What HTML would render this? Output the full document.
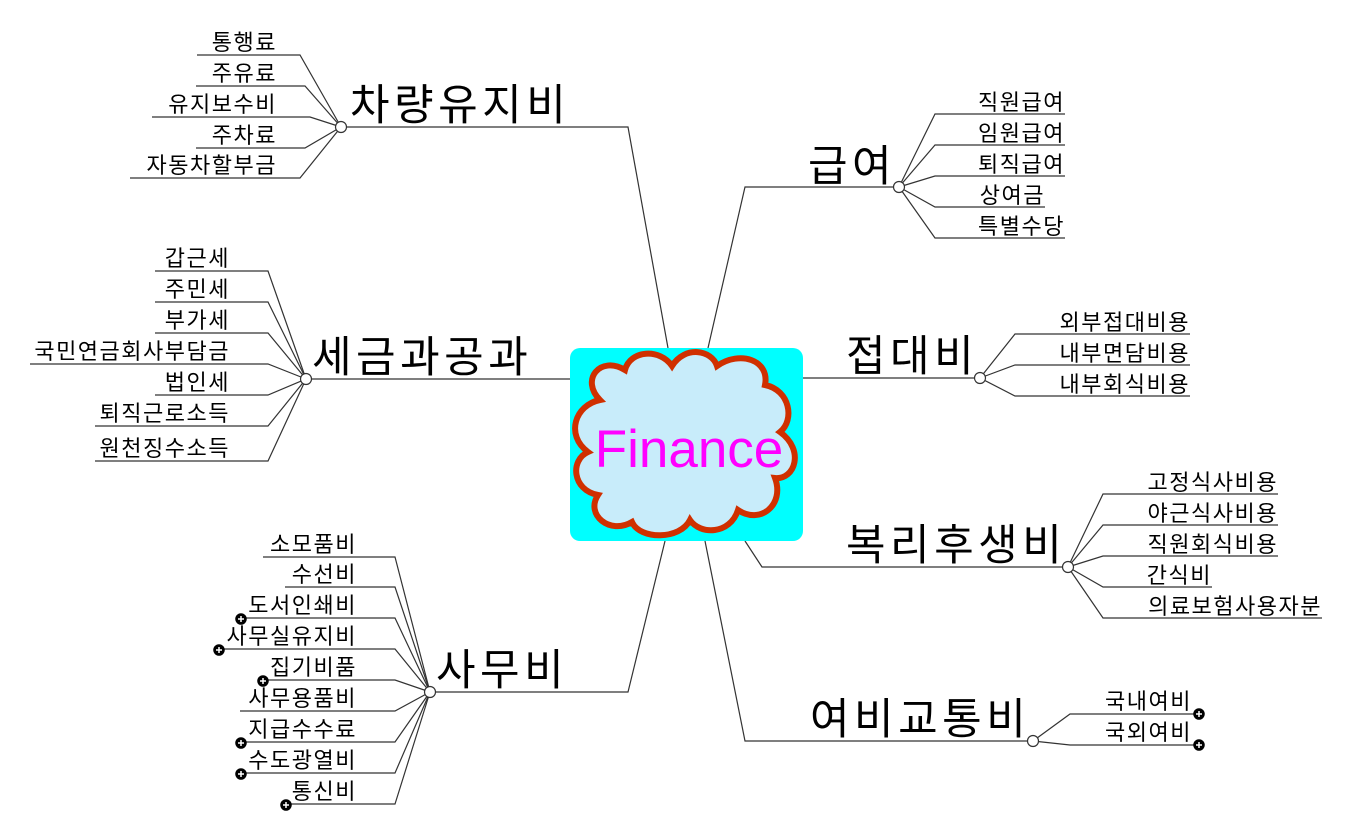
<!DOCTYPE html>
<html><head><meta charset="utf-8"><style>
html,body{margin:0;padding:0;background:#fff;}
svg{display:block;}
text{font-family:"Liberation Sans","Noto Sans CJK KR","NanumGothic",sans-serif;fill:#000;}
.l{font-size:22px;letter-spacing:1.5px;}
.m{font-size:43px;letter-spacing:4.5px;}
</style></head><body>
<svg width="1365" height="834" viewBox="0 0 1365 834" xmlns="http://www.w3.org/2000/svg">
<g stroke="#333" stroke-width="1.2" fill="none">
<polyline points="341,127 628,127 668,348"/>
<polyline points="306,379 570,379"/>
<polyline points="430,692 628,692 665,541"/>
<polyline points="899,187 745,187 708,348"/>
<polyline points="803,378 980,378"/>
<polyline points="745,541 762,567 1068,567"/>
<polyline points="705,541 745,741 1033,741"/>
<polyline points="197,55 300,55 341,127"/>
<polyline points="196,86 305,86 341,127"/>
<polyline points="152,117 310,117 341,127"/>
<polyline points="196,148 305,148 341,127"/>
<polyline points="130,178 300,178 341,127"/>
<polyline points="155,271 268,271 306,379"/>
<polyline points="155,302 268,302 306,379"/>
<polyline points="155,333 268,333 306,379"/>
<polyline points="30,364 268,364 306,379"/>
<polyline points="155,395 268,395 306,379"/>
<polyline points="95,426 268,426 306,379"/>
<polyline points="95,461 268,461 306,379"/>
<polyline points="263,557 395,557 430,692"/>
<polyline points="285,587 395,587 430,692"/>
<polyline points="240,618 395,618 430,692"/>
<polyline points="218,649 395,649 430,692"/>
<polyline points="262,680 395,680 430,692"/>
<polyline points="240,711 395,711 430,692"/>
<polyline points="240,742 395,742 430,692"/>
<polyline points="240,773 395,773 430,692"/>
<polyline points="285,804 395,804 430,692"/>
<polyline points="899,187 935,114 1065,114"/>
<polyline points="899,187 935,145 1065,145"/>
<polyline points="899,187 935,176 1065,176"/>
<polyline points="899,187 935,207 1045,207"/>
<polyline points="899,187 935,238 1065,238"/>
<polyline points="980,378 1015,334 1190,334"/>
<polyline points="980,378 1015,365 1190,365"/>
<polyline points="980,378 1015,396 1190,396"/>
<polyline points="1068,567 1103,494 1278,494"/>
<polyline points="1068,567 1103,525 1278,525"/>
<polyline points="1068,567 1103,556 1278,556"/>
<polyline points="1068,567 1103,587 1212,587"/>
<polyline points="1068,567 1103,618 1322,618"/>
<polyline points="1033,741 1070,714 1198,714"/>
<polyline points="1033,741 1070,745 1198,745"/>
</g>
<g fill="#fff" stroke="#333" stroke-width="1.2">
<circle cx="341" cy="127" r="5.5"/>
<circle cx="306" cy="379" r="5.5"/>
<circle cx="430" cy="692" r="5.5"/>
<circle cx="899" cy="187" r="5.5"/>
<circle cx="980" cy="378" r="5.5"/>
<circle cx="1068" cy="567" r="5.5"/>
<circle cx="1033" cy="741" r="5.5"/>
</g>
<g stroke="#000" stroke-width="1.5">
<g transform="translate(241,619)"><circle r="5" fill="#000"/><path d="M-3,0H3M0,-3V3" stroke="#fff"/></g>
<g transform="translate(219,650)"><circle r="5" fill="#000"/><path d="M-3,0H3M0,-3V3" stroke="#fff"/></g>
<g transform="translate(263,681)"><circle r="5" fill="#000"/><path d="M-3,0H3M0,-3V3" stroke="#fff"/></g>
<g transform="translate(241,743)"><circle r="5" fill="#000"/><path d="M-3,0H3M0,-3V3" stroke="#fff"/></g>
<g transform="translate(241,774)"><circle r="5" fill="#000"/><path d="M-3,0H3M0,-3V3" stroke="#fff"/></g>
<g transform="translate(286,805)"><circle r="5" fill="#000"/><path d="M-3,0H3M0,-3V3" stroke="#fff"/></g>
<g transform="translate(1199,714)"><circle r="5" fill="#000"/><path d="M-3,0H3M0,-3V3" stroke="#fff"/></g>
<g transform="translate(1199,745)"><circle r="5" fill="#000"/><path d="M-3,0H3M0,-3V3" stroke="#fff"/></g>
</g>
<rect x="570" y="348" width="233" height="193" rx="10" fill="#00ffff"/>
<path d="M600,400 C580,380 600,355 625,370 C630,350 660,348 672,366 C685,345 712,350 717,366 C740,350 770,360 765,385 C790,390 795,420 780,432 C805,450 795,480 775,478 C785,505 760,525 738,510 C730,535 700,535 690,520 C680,540 640,540 632,522 C610,535 585,515 598,495 C572,490 570,460 588,452 C565,435 575,405 600,400 Z" fill="#c8ecfa" stroke="#d03000" stroke-width="6"/>
<text x="689" y="467" text-anchor="middle" style="font-size:53px;fill:#ff00ff">Finance</text>
<text class="m" x="350" y="120">차량유지비</text>
<text class="m" x="312" y="372">세금과공과</text>
<text class="m" x="436" y="685">사무비</text>
<text class="m" x="808" y="181">급여</text>
<text class="m" x="846" y="371">접대비</text>
<text class="m" x="846" y="560">복리후생비</text>
<text class="m" x="810" y="734">여비교통비</text>
<g class="l" text-anchor="end">
<text x="277" y="50">통행료</text>
<text x="277" y="81">주유료</text>
<text x="277" y="112">유지보수비</text>
<text x="277" y="143">주차료</text>
<text x="277" y="173">자동차할부금</text>
<text x="230" y="266">갑근세</text>
<text x="230" y="297">주민세</text>
<text x="230" y="328">부가세</text>
<text x="230" y="359">국민연금회사부담금</text>
<text x="230" y="390">법인세</text>
<text x="230" y="421">퇴직근로소득</text>
<text x="230" y="456">원천징수소득</text>
<text x="357" y="552">소모품비</text>
<text x="357" y="582">수선비</text>
<text x="357" y="613">도서인쇄비</text>
<text x="357" y="644">사무실유지비</text>
<text x="357" y="675">집기비품</text>
<text x="357" y="706">사무용품비</text>
<text x="357" y="737">지급수수료</text>
<text x="357" y="768">수도광열비</text>
<text x="357" y="799">통신비</text>
<text x="1065" y="110">직원급여</text>
<text x="1065" y="141">임원급여</text>
<text x="1065" y="172">퇴직급여</text>
<text x="1045" y="203">상여금</text>
<text x="1065" y="234">특별수당</text>
<text x="1190" y="330">외부접대비용</text>
<text x="1190" y="361">내부면담비용</text>
<text x="1190" y="392">내부회식비용</text>
<text x="1278" y="490">고정식사비용</text>
<text x="1278" y="521">야근식사비용</text>
<text x="1278" y="552">직원회식비용</text>
<text x="1212" y="583">간식비</text>
<text x="1322" y="614">의료보험사용자분</text>
<text x="1192" y="709">국내여비</text>
<text x="1192" y="740">국외여비</text>
</g>
</svg>
</body></html>
